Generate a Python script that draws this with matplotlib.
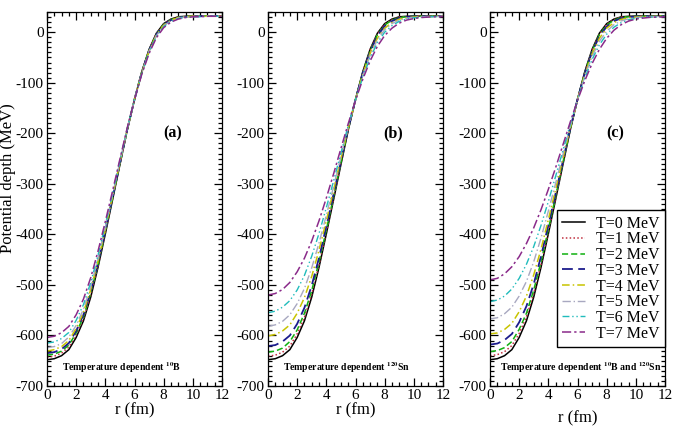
import matplotlib
matplotlib.use("Agg")
import matplotlib.pyplot as plt
from matplotlib.ticker import MultipleLocator

plt.rcParams['font.family'] = ['Liberation Serif', 'DejaVu Serif']
plt.rcParams['mathtext.fontset'] = 'stix'
plt.rcParams['axes.unicode_minus'] = False

# ---------------- data ----------------
r_fm = [0, 0.5, 1, 1.5, 2, 2.5, 3, 3.5, 4, 4.5, 5, 5.5, 6, 6.5, 7, 7.5, 8,
        8.5, 9, 9.5, 10, 10.5, 11, 11.5, 12]

temps = ["T=0 MeV", "T=1 MeV", "T=2 MeV", "T=3 MeV",
         "T=4 MeV", "T=5 MeV", "T=6 MeV", "T=7 MeV"]

# panel (a): temperature dependent 10B
a_T0 = [-648, -646, -640, -628, -604, -571, -524, -465, -399, -331, -262, -194, -133, -78, -34, -2, 17, 26, 30.5, 31.5, 32, 32, 32, 32, 32]
a_T1 = [-643, -641, -635, -623, -599, -566, -520, -462, -396, -329, -261, -193.5, -133, -78.5, -35, -3, 16, 25.5, 30, 31, 32, 32, 32, 32, 32]
a_T2 = [-639, -637, -631, -619, -595, -563, -516, -459, -394, -327.5, -260, -193, -133, -79, -35.5, -4, 15.5, 25, 29.5, 31, 31.5, 32, 32, 32, 32]
a_T3 = [-635, -633, -627, -615, -591, -559, -513, -456, -392, -326, -259, -193, -133, -79.5, -36, -4.5, 14.5, 24, 29, 30.5, 31.5, 31.5, 32, 32, 32]
a_T4 = [-631, -628, -622, -610, -586, -554, -509, -452.5, -389, -324, -258, -192, -133, -80, -37, -5.5, 14, 23.5, 29, 30.5, 31.5, 31.5, 31.5, 32, 32]
a_T5 = [-624, -622, -616, -603, -580, -548, -503, -448, -386, -321.5, -256, -191.5, -133, -81, -38, -7, 12.5, 22.5, 28, 30, 31, 31.5, 31.5, 31.5, 32]
a_T6 = [-615, -613, -606, -594, -570, -539, -495, -441, -380.5, -318, -254, -190.5, -133.5, -82, -40, -8.5, 11, 21.5, 27, 29.5, 30.5, 31, 31.5, 31.5, 31.5]
a_T7 = [-604, -601.5, -594.5, -582, -559, -528, -485.5, -433, -374.5, -313.5, -251, -189.5, -133.5, -83, -42, -11, 9, 20, 26, 29, 30.5, 31, 31.5, 31.5, 31.5]

# panel (b): temperature dependent 120Sn
b_T0 = [-648, -646, -640, -628, -604, -571, -524, -465, -399, -331, -262, -194, -133, -78, -34, -2, 17, 26, 30.5, 31.5, 32, 32, 32, 32, 32]
b_T1 = [-641, -639, -633, -621, -597, -564, -518, -460, -395, -328, -260, -193, -133, -79, -35, -3.5, 16, 25, 30, 31, 31.5, 32, 32, 32, 32]
b_T2 = [-633, -631, -625, -612, -589, -556, -511, -454, -391, -325, -258, -192, -133, -80, -37, -5, 14, 24, 29, 30.5, 31.5, 31.5, 32, 32, 32]
b_T3 = [-621, -619, -612, -600, -577, -545, -501, -446, -384, -320, -255, -191, -133, -81, -39, -7, 12, 22, 28, 30, 31, 31.5, 31.5, 31.5, 32]
b_T4 = [-601, -598, -591, -579, -556, -525, -483, -431, -373, -312, -250, -189, -134, -83, -42, -12, 8, 19, 26, 28.5, 30, 31, 31, 31.5, 31.5]
b_T5 = [-582, -579, -572, -559, -537, -507, -466, -417, -362, -305, -246, -187, -134, -86, -46, -15, 5, 17, 24, 27.5, 29.5, 30.5, 31, 31, 31.5]
b_T6 = [-555, -552, -544, -531, -510, -481, -443, -398, -347, -294, -239, -185, -134, -89, -51, -21, 0, 13, 21.5, 26, 28.5, 29.5, 30.5, 31, 31]
b_T7 = [-520, -517, -509, -495, -474, -447, -413, -373, -328, -280, -230, -181, -135, -93, -57, -28, -6.5, 8, 18, 24, 27, 29, 30, 30.5, 31]

# panel (c): temperature dependent 10B and 120Sn
c_T0 = [-648, -646, -640, -628, -604, -571, -524, -465, -399, -331, -262, -194, -133, -78, -34, -2, 17, 26, 30.5, 31.5, 32, 32, 32, 32, 32]
c_T1 = [-640, -638, -632, -620, -596, -563, -517, -459, -395, -328, -260, -193, -133, -79, -35, -4, 16, 25, 30, 31, 31.5, 32, 32, 32, 32]
c_T2 = [-632, -630, -624, -612, -588, -556, -510, -454, -390, -325, -258, -192, -133, -80, -37, -5, 14, 24, 29, 30.5, 31.5, 31.5, 32, 32, 32]
c_T3 = [-618, -616, -609, -597, -574, -542, -498, -443, -382, -319, -255, -191, -133, -81, -39, -8, 11, 22, 27.5, 29.5, 31, 31, 31.5, 31.5, 31.5]
c_T4 = [-597, -595, -588, -576, -553, -522, -480, -429, -371, -311, -250, -189, -134, -84, -43, -12, 8, 19, 25.5, 28.5, 30, 30.5, 31, 31.5, 31.5]
c_T5 = [-567, -565, -557, -544, -522, -493, -454, -407, -354, -299, -242, -186, -134, -87, -48, -18, 2, 15, 22.5, 26.5, 29, 30, 30.5, 31, 31]
c_T6 = [-533, -530, -522, -508, -487, -459, -424, -382, -335, -285, -234, -182, -134, -91, -54, -25, -4, 10, 19, 24.5, 27.5, 29, 30, 30.5, 31]
c_T7 = [-490, -487, -478, -464, -444, -418, -387, -351, -311, -268, -223, -178, -135, -96, -62, -34, -12, 4, 15, 22, 26, 28, 29.5, 30, 30.5]

panel_a = [a_T0, a_T1, a_T2, a_T3, a_T4, a_T5, a_T6, a_T7]
panel_b = [b_T0, b_T1, b_T2, b_T3, b_T4, b_T5, b_T6, b_T7]
panel_c = [c_T0, c_T1, c_T2, c_T3, c_T4, c_T5, c_T6, c_T7]

# ---------------- styles ----------------
colors = ['#000000', '#c03040', '#10b010', '#1c1c8c',
          '#c8c400', '#a8a8c0', '#20bcbc', '#8a2a8a']
styles = ['-', (0, (1, 1.5)), (0, (4, 2)), (0, (6, 3)),
          (0, (5, 2, 1, 2)), (0, (6, 2, 1, 2)), (0, (5, 2, 1, 2, 1, 2)),
          (0, (6, 2, 1.5, 2))]
widths = [1.1, 1.1, 1.1, 1.3, 1.1, 1.0, 1.0, 1.1]

fig = plt.figure(figsize=(6.75, 4.26), dpi=100)

lefts = [47 / 675, 268 / 675, 490 / 675]
w = 175 / 675
bottom = 1 - 386 / 426
h = (386 - 12) / 426

panels = [panel_a, panel_b, panel_c]
tags = ['(a)', '(b)', '(c)']
notes = [r'Temperature dependent $^{\mathbf{10}}$B',
         r'Temperature dependent $^{\mathbf{120}}$Sn',
         r'Temperature dependent $^{\mathbf{10}}$B and $^{\mathbf{120}}$Sn']
note_x = [1.0, 1.0, 0.7]

axes = []
for i, (left, data) in enumerate(zip(lefts, panels)):
    ax = fig.add_axes([left, bottom, w, h])
    axes.append(ax)
    for k, ys in enumerate(data):
        ax.plot(r_fm, ys, color=colors[k], linestyle=styles[k],
                linewidth=widths[k], label=temps[k])
    ax.set_xlim(0, 12)
    ax.set_ylim(-700, 40)
    ax.xaxis.set_major_locator(MultipleLocator(2))
    ax.xaxis.set_minor_locator(MultipleLocator(0.5))
    ax.yaxis.set_major_locator(MultipleLocator(100))
    ax.yaxis.set_minor_locator(MultipleLocator(10))
    ax.tick_params(which='both', direction='in', top=True, right=True,
                   labelsize=11, width=0.9)
    ax.tick_params(which='major', length=6, pad=2.5)
    ax.tick_params(which='minor', length=3)
    for sp in ax.spines.values():
        sp.set_linewidth(0.9)
    ax.text(8.6, -200, tags[i], fontsize=11.5, fontweight='bold',
            ha='center', va='center')
    ax.text(note_x[i], -664, notes[i], fontsize=7, fontweight='bold',
            ha='left', va='center')
    if i < 2:
        ax.set_xlabel('r (fm)', fontsize=12, labelpad=0)

fig.text(578 / 675, 0.0, 'r (fm)', fontsize=12, ha='center', va='bottom')
fig.text(0.0, 1 - 178 / 426, 'Potential depth (MeV)', fontsize=12,
         rotation=90, ha='left', va='center')

leg = axes[2].legend(loc='upper right', bbox_to_anchor=(1.0, 0.47),
                     fontsize=11.5, frameon=True, fancybox=False,
                     edgecolor='black', framealpha=1, labelspacing=-0.02,
                     handlelength=1.4, handletextpad=0.7, borderpad=0.35,
                     borderaxespad=0.0)
leg.get_frame().set_linewidth(1.0)

fig.savefig('out.png', dpi=100)
